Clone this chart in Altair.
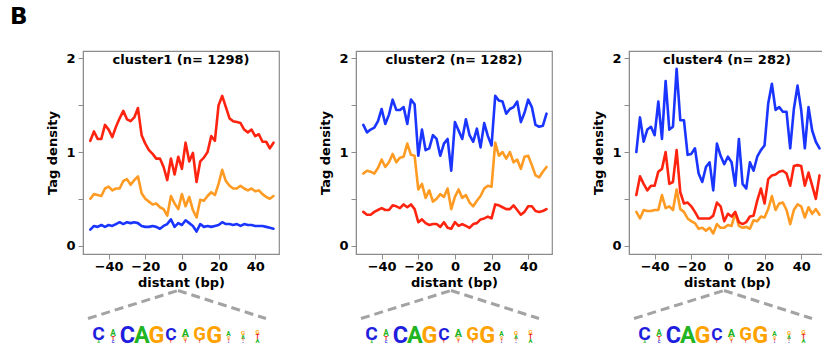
import altair as alt
import pandas as pd

FONT = "DejaVu Sans"
LOGO_FONT = "Roboto"

positions = list(range(-50, 51, 2))
x_ticks = [-40, -20, 0, 20, 40]
y_ticks = [0, 0.5, 1, 1.5, 2]

series_names = ["orange", "red", "blue"]
series_colors = ["#FF9A22", "#FF2410", "#1A35FF"]

titles = ["cluster1 (n= 1298)", "cluster2 (n= 1282)", "cluster4 (n= 282)"]

c1_red = [1.12, 1.22, 1.14, 1.14, 1.29, 1.24, 1.16, 1.27, 1.36, 1.44,
          1.35, 1.33, 1.37, 1.47, 1.18, 1.09, 1.02, 0.98, 0.93, 0.93,
          0.84, 0.70, 0.93, 0.76, 0.95, 0.82, 1.10, 0.90, 0.99, 0.68,
          0.90, 0.94, 1.00, 1.17, 1.12, 1.50, 1.60, 1.48, 1.36, 1.33,
          1.32, 1.31, 1.24, 1.21, 1.24, 1.17, 1.19, 1.11, 1.11, 1.04,
          1.10]
c1_orange = [0.50, 0.55, 0.54, 0.53, 0.61, 0.63, 0.59, 0.61, 0.61, 0.69,
             0.71, 0.65, 0.70, 0.74, 0.56, 0.50, 0.47, 0.44, 0.45, 0.41,
             0.39, 0.32, 0.53, 0.45, 0.39, 0.55, 0.42, 0.52, 0.38, 0.30,
             0.49, 0.48, 0.53, 0.57, 0.54, 0.66, 0.81, 0.69, 0.64, 0.61,
             0.61, 0.64, 0.61, 0.59, 0.61, 0.58, 0.59, 0.55, 0.52, 0.50,
             0.53]
c1_blue = [0.17, 0.21, 0.20, 0.22, 0.20, 0.22, 0.21, 0.23, 0.25, 0.23,
           0.25, 0.24, 0.25, 0.24, 0.21, 0.20, 0.20, 0.21, 0.20, 0.18,
           0.21, 0.23, 0.28, 0.20, 0.24, 0.22, 0.27, 0.24, 0.21, 0.15,
           0.23, 0.20, 0.21, 0.20, 0.21, 0.22, 0.25, 0.23, 0.23, 0.22,
           0.23, 0.21, 0.23, 0.22, 0.22, 0.21, 0.21, 0.21, 0.20, 0.19,
           0.18]

c2_red = [0.36, 0.33, 0.33, 0.36, 0.38, 0.40, 0.38, 0.38, 0.43, 0.42,
          0.40, 0.44, 0.41, 0.44, 0.39, 0.25, 0.28, 0.24, 0.22, 0.23,
          0.23, 0.20, 0.25, 0.19, 0.18, 0.25, 0.21, 0.23, 0.21, 0.19,
          0.23, 0.24, 0.28, 0.29, 0.31, 0.29, 0.44, 0.43, 0.41, 0.39,
          0.39, 0.43, 0.38, 0.33, 0.36, 0.42, 0.42, 0.37, 0.36, 0.37,
          0.39]
c2_orange = [0.77, 0.80, 0.79, 0.77, 0.83, 0.92, 0.84, 0.89, 0.98, 0.89,
             0.94, 0.95, 1.09, 0.97, 0.96, 0.60, 0.66, 0.51, 0.59, 0.47,
             0.50, 0.55, 0.52, 0.61, 0.39, 0.52, 0.60, 0.51, 0.54, 0.46,
             0.42, 0.48, 0.53, 0.61, 0.64, 0.63, 1.10, 0.96, 1.00, 0.93,
             1.00, 0.89, 0.92, 0.82, 0.95, 0.96, 0.86, 0.75, 0.73, 0.79,
             0.84]
c2_blue = [1.29, 1.21, 1.24, 1.26, 1.33, 1.46, 1.30, 1.40, 1.56, 1.45,
           1.45, 1.48, 1.30, 1.56, 1.51, 0.96, 1.24, 1.02, 1.04, 1.18,
           1.14, 0.96, 1.09, 1.14, 0.80, 1.32, 1.23, 1.14, 1.35, 1.18,
           1.11, 1.25, 1.05, 1.31, 1.17, 1.07, 1.60, 1.55, 1.54, 1.41,
           1.46, 1.48, 1.54, 1.32, 1.42, 1.56, 1.48, 1.29, 1.27, 1.28,
           1.41]

c4_red = [0.54, 0.74, 0.66, 0.59, 0.64, 0.64, 0.79, 0.82, 1.00, 0.66,
          0.68, 1.02, 0.57, 0.45, 0.46, 0.42, 0.36, 0.29, 0.29, 0.29,
          0.29, 0.32, 0.46, 0.42, 0.26, 0.34, 0.31, 0.36, 0.25, 0.23,
          0.25, 0.31, 0.32, 0.48, 0.61, 0.45, 0.71, 0.75, 0.76, 0.79,
          0.80, 0.77, 0.64, 0.85, 0.86, 0.85, 0.64, 0.78, 0.64, 0.50,
          0.75]
c4_orange = [0.36, 0.29, 0.38, 0.37, 0.37, 0.38, 0.38, 0.54, 0.40, 0.42,
             0.38, 0.60, 0.39, 0.36, 0.29, 0.26, 0.24, 0.18, 0.19, 0.16,
             0.19, 0.13, 0.23, 0.19, 0.19, 0.22, 0.21, 0.35, 0.21, 0.19,
             0.20, 0.18, 0.27, 0.26, 0.31, 0.30, 0.39, 0.53, 0.38, 0.45,
             0.46, 0.38, 0.23, 0.38, 0.44, 0.42, 0.30, 0.41, 0.34, 0.39,
             0.33]
c4_blue = [1.00, 1.37, 1.11, 1.24, 1.27, 1.18, 1.54, 1.14, 1.76, 1.24,
           1.27, 1.89, 1.34, 1.34, 0.97, 0.98, 1.04, 0.77, 0.68, 0.84,
           0.89, 0.59, 1.09, 0.96, 0.87, 0.95, 0.89, 0.64, 1.14, 0.66,
           0.61, 0.89, 0.80, 0.95, 1.02, 1.07, 1.52, 1.73, 1.45, 1.48,
           1.43, 1.43, 1.04, 1.46, 1.71, 1.45, 1.04, 1.48, 1.23, 1.11,
           1.04]

# sequence logo (same motif under each panel), listed bottom-to-top per position
logo_pos = [1, 1, 2, 2, 2, 3, 4, 5, 6, 6, 7, 7, 7, 8, 8, 9,
            10, 10, 10, 10, 11, 11, 11, 11, 12, 12, 12]
logo_letter = ["A", "C", "C", "T", "A", "C", "A", "G", "T", "C", "T", "G", "A", "T", "G", "G",
               "C", "T", "G", "A", "C", "T", "A", "G", "A", "T", "G"]
logo_bits = [0.30, 1.60, 0.35, 0.50, 0.70, 1.95, 1.95, 1.95, 0.35, 1.45, 0.30, 0.45, 0.90, 0.30, 1.55, 1.95,
             0.20, 0.25, 0.35, 0.55, 0.20, 0.30, 0.45, 0.50, 0.50, 0.55, 0.50]
logo_colors = {"A": "#22B422", "C": "#1E1EDC", "G": "#FFA200", "T": "#E81E1E"}

PW, PH = 196, 203
LOGO_H = 17


def panel(title, red, orange, blue):
    n = len(positions)
    df = pd.DataFrame({
        "pos": positions * 3,
        "density": orange + red + blue,
        "series": ["orange"] * n + ["red"] * n + ["blue"] * n,
    })
    lines = alt.Chart(df).mark_line(strokeWidth=2.6, strokeJoin="round", strokeCap="round").encode(
        x=alt.X("pos:Q", scale=alt.Scale(domain=[-54, 53], nice=False, zero=False),
                axis=alt.Axis(values=x_ticks, title="distant (bp)")),
        y=alt.Y("density:Q", scale=alt.Scale(domain=[-0.09, 2.08], nice=False, zero=False),
                axis=alt.Axis(values=y_ticks, title="Tag density", format="~g",
                              labelExpr="datum.value == 0 || datum.value == 1 || datum.value == 2 ? datum.label : ''")),
        color=alt.Color("series:N", scale=alt.Scale(domain=series_names, range=series_colors), legend=None),
    )
    head = alt.Chart(pd.DataFrame({"title": [title]})).mark_text(
        baseline="top", align="center", fontSize=13, font=FONT, fontWeight="bold", color="black"
    ).encode(text="title:N", x=alt.value(PW / 2), y=alt.value(2.5))
    return alt.layer(lines, head).properties(width=PW, height=PH)


def logo():
    df = pd.DataFrame({"pos": logo_pos, "letter": logo_letter, "bits": logo_bits})
    df["base"] = df.groupby("pos")["bits"].cumsum() - df["bits"]
    one = pd.DataFrame({"k": [0]})
    left = alt.Chart(one).mark_rule(strokeDash=[9, 5], strokeWidth=3, color="#A3A3A3").encode(
        x=alt.value(5), y=alt.value(-7.5), x2=alt.value(95), y2=alt.value(-35.5))
    right = alt.Chart(one).mark_rule(strokeDash=[9, 5], strokeWidth=3, color="#A3A3A3").encode(
        x=alt.value(95), y=alt.value(-35.5), x2=alt.value(183), y2=alt.value(-7.5))
    letters = alt.Chart(df).mark_text(baseline="alphabetic", align="center", font=LOGO_FONT,
                                      fontWeight="bold").encode(
        x=alt.X("pos:Q", scale=alt.Scale(domain=[-0.08, 13.49], nice=False, zero=False), axis=None),
        y=alt.Y("base:Q", scale=alt.Scale(domain=[0, 2], nice=False, zero=True), axis=None),
        text="letter:N",
        size=alt.Size("bits:Q", scale=alt.Scale(domain=[0, 2], range=[0, 24]), legend=None),
        color=alt.Color("letter:N", scale=alt.Scale(domain=list(logo_colors.keys()),
                                                    range=list(logo_colors.values())), legend=None),
    )
    return alt.layer(left, right, letters).properties(
        width=PW, height=LOGO_H, view=alt.ViewBackground(stroke="transparent"))


p1 = panel(titles[0], c1_red, c1_orange, c1_blue)
p2 = panel(titles[1], c2_red, c2_orange, c2_blue)
p3 = panel(titles[2], c4_red, c4_orange, c4_blue)

chart = alt.concat(
    p1, p2, p3, logo(), logo(), logo(), columns=3,
    spacing={"row": 72, "column": 77}, bounds="flush",
).resolve_scale(
    color="independent", size="independent", x="independent", y="independent",
).properties(
    title=alt.TitleParams("B", anchor="start", frame="group", dx=-73, offset=3.5, baseline="alphabetic",
                          fontSize=23, font=FONT, fontWeight="bold", color="black"),
    padding={"left": 10, "top": 5, "right": -4, "bottom": 0},
).configure_view(
    stroke="#8C8C8C", strokeWidth=1.2
).configure_axis(
    domainColor="#8C8C8C", tickColor="#8C8C8C", tickSize=5, grid=False,
    labelFont=FONT, labelFontSize=13, labelFontWeight="bold", labelColor="black",
    titleFont=FONT, titleFontSize=13, titleFontWeight="bold", titleColor="black",
).configure_axisX(
    labelPadding=1, titlePadding=3,
).configure_axisY(
    labelPadding=3, titlePadding=6,
)

chart.save("out.html", embed_options={"renderer": "svg", "actions": False})
